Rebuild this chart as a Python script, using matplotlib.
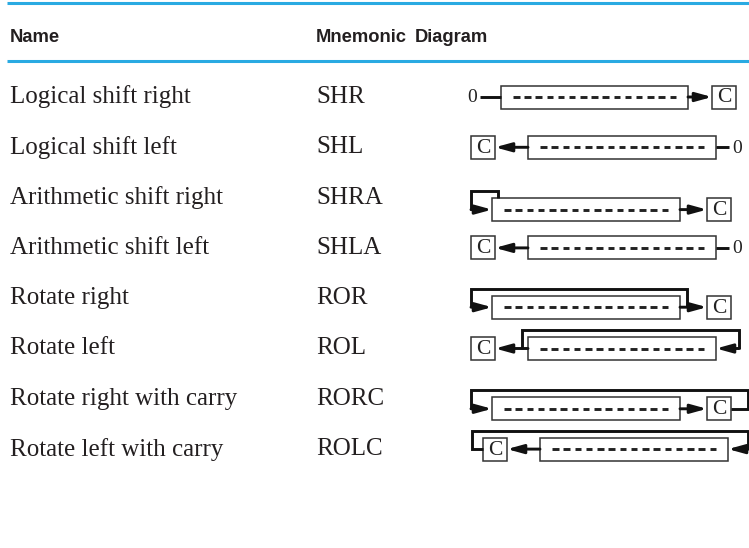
import matplotlib
matplotlib.use("Agg")
import matplotlib.pyplot as plt
from matplotlib.patches import Rectangle

# table contents
names = ["Logical shift right", "Logical shift left", "Arithmetic shift right",
         "Arithmetic shift left", "Rotate right", "Rotate left",
         "Rotate right with carry", "Rotate left with carry"]
mnemonics = ["SHR", "SHL", "SHRA", "SHLA", "ROR", "ROL", "RORC", "ROLC"]
headers = ["Name", "Mnemonic", "Diagram"]
kinds = ["shr", "shl", "shra", "shl", "ror", "rol", "rorc", "rolc"]

BLUE = "#2aaae2"
INK = "#231f20"
SERIF = ["Liberation Serif", "DejaVu Serif"]
HEAD = ["Liberation Sans Narrow", "Liberation Sans", "DejaVu Sans"]

fig = plt.figure(figsize=(7.49, 5.48), dpi=100)
ax = fig.add_axes([0, 0, 1, 1])
ax.set_xlim(0, 749)
ax.set_ylim(548, 0)
ax.axis("off")

BH = 23      # register box height (px)
CW = 24      # carry box width
LOOP = BH / 2 + 7   # loop height above centre


def reg(x0, x1, yc):
    ax.add_patch(Rectangle((x0, yc - BH / 2), x1 - x0, BH, fill=False,
                           lw=1.1, ec="#333333"))
    # 15 dashes inside the register
    n, d = 15, 6.5
    a, b = x0 + 12, x1 - 12
    step = (b - a - d) / (n - 1)
    for i in range(n):
        xs = a + i * step
        ax.plot([xs, xs + d], [yc, yc], color="#222222", lw=2.1,
                solid_capstyle="butt")


def cbox(x0, yc):
    ax.add_patch(Rectangle((x0, yc - BH / 2), CW, BH, fill=False,
                           lw=1.1, ec="#333333"))
    ax.text(x0 + CW / 2, yc + 1, "C", family=SERIF, fontsize=15.5,
            ha="center", va="center", color="#222222")


def zero(x, yc):
    ax.text(x, yc + 1, "0", family=SERIF, fontsize=14,
            ha="center", va="center", color="#222222")


def line(xs, ys):
    ax.plot(xs, ys, color="#111111", lw=2.1, solid_capstyle="butt",
            solid_joinstyle="miter")


def arrow(x0, x1, y):
    ax.annotate("", xy=(x1, y), xytext=(x0, y),
                arrowprops=dict(arrowstyle="-|>,head_length=0.8,head_width=0.22",
                                color="#111111", lw=2.1, shrinkA=0, shrinkB=0,
                                mutation_scale=12))


def diagram(kind, yc):
    top = yc - LOOP
    if kind == "shr":
        zero(472, yc)
        line([480, 501], [yc, yc])
        reg(501, 688, yc)
        arrow(688, 712, yc)
        cbox(712, yc)
    elif kind == "shl":
        cbox(471, yc)
        arrow(528, 495, yc)
        reg(528, 716, yc)
        line([716, 729], [yc, yc])
        zero(737, yc)
    elif kind == "shra":
        reg(492, 680, yc)
        line([498, 498, 471, 471], [yc - BH / 2, top, top, yc])
        arrow(471, 492, yc)
        arrow(680, 707, yc)
        cbox(707, yc)
    elif kind == "ror":
        reg(492, 680, yc)
        line([687, 687, 471, 471], [yc, top, top, yc])
        arrow(471, 492, yc)
        arrow(680, 707, yc)
        cbox(707, yc)
    elif kind == "rol":
        cbox(471, yc)
        arrow(528, 495, yc)
        reg(528, 716, yc)
        line([522, 522, 739, 739], [yc, top, top, yc])
        arrow(739, 716, yc)
    elif kind == "rorc":
        reg(492, 680, yc)
        arrow(680, 707, yc)
        cbox(707, yc)
        line([731, 748, 748, 471, 471], [yc, yc, top, top, yc])
        arrow(471, 492, yc)
    elif kind == "rolc":
        line([483, 472, 472, 748, 748], [yc, yc, top, top, yc])
        cbox(483, yc)
        arrow(749, 728, yc)
        reg(540, 728, yc)
        arrow(540, 507, yc)


# header band
ax.plot([7, 749], [3, 3], color=BLUE, lw=2.2, solid_capstyle="butt")
ax.plot([7, 749], [61, 61], color=BLUE, lw=2.2, solid_capstyle="butt")
for x, h in zip([10, 316, 415], headers):
    ax.text(x, 38, h, family=HEAD, fontweight="bold", fontsize=13.2,
            ha="left", va="center", color=INK)

row_y = [97 + 50.3 * i for i in range(len(names))]
shift = {"shra": 12, "ror": 9, "rorc": 10}
for y, n, m, k in zip(row_y, names, mnemonics, kinds):
    ax.text(10, y, n, family=SERIF, fontsize=18, ha="left", va="center",
            color=INK)
    ax.text(316, y, m, family=SERIF, fontsize=18, ha="left", va="center",
            color=INK)
    diagram(k, y + shift.get(k, 0))

fig.savefig("out.png", dpi=100)
